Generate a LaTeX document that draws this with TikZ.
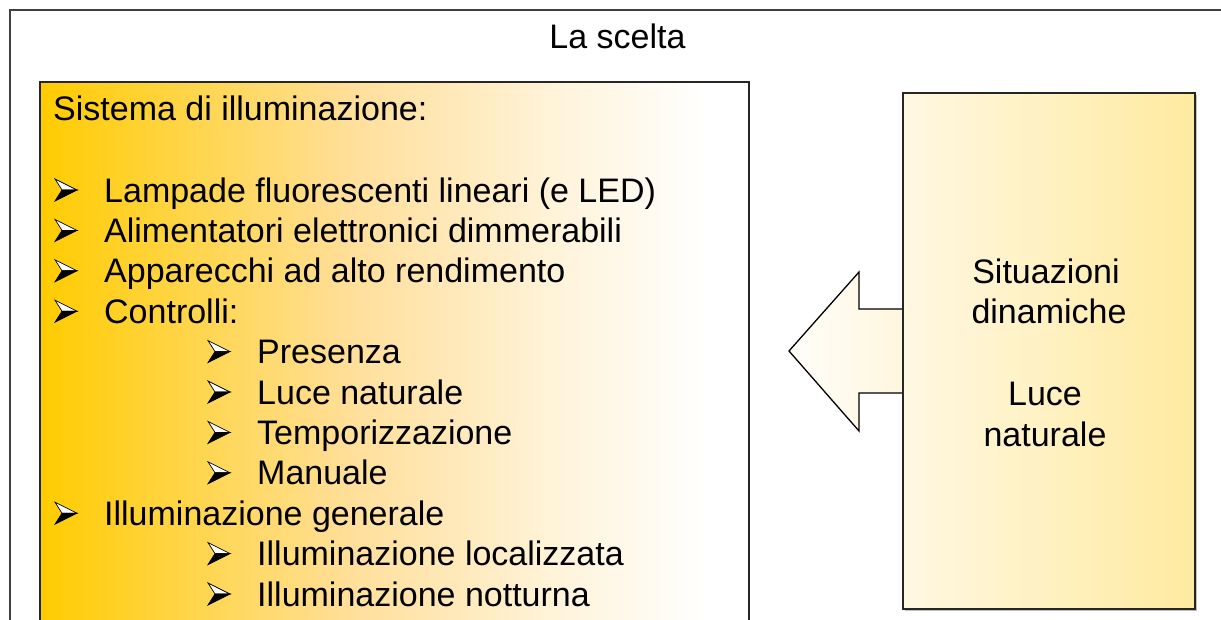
\documentclass[tikz,border=0pt]{standalone}
\usepackage{fontspec}
\setmainfont{Liberation Sans}
\definecolor{gold}{HTML}{FFCC00}
\definecolor{peach}{HTML}{FFDF9A}
\definecolor{cream}{HTML}{FFF4DC}
\definecolor{rbl}{HTML}{FFF8E2}
\definecolor{rbr}{HTML}{FFEAA0}
\definecolor{arl}{HTML}{FFFEFA}
\definecolor{arr}{HTML}{FFF6DE}
\definecolor{frame}{HTML}{404040}
\pgfdeclarehorizontalshading{leftgrad}{100bp}{color(0bp)=(gold); color(25bp)=(gold); color(47bp)=(peach); color(62bp)=(cream); color(72bp)=(white); color(100bp)=(white)}
\tikzset{
  txt/.style={inner sep=0pt, anchor=base west, font=\fontsize{34}{40}\selectfont},
  ctxt/.style={inner sep=0pt, anchor=base, font=\fontsize{34}{40}\selectfont},
  bul/.pic={
    \filldraw[fill=white,draw=black,line width=0.7pt,line join=miter] (-11,-11)--(11,0)--(-4,0)--cycle;
    \filldraw[fill=black,draw=black,line width=0.7pt,line join=miter] (-4,0)--(11,0)--(-11,11)--cycle;
  },
  boxline/.style={draw=black!85, line width=1.6pt}
}
\begin{document}
\begin{tikzpicture}[x=1pt,y=-1pt]
\useasboundingbox (0,0) rectangle (1221,619);
\fill[white] (0,0) rectangle (1221,619);
% outer frame
\draw[frame, line width=2pt] (9.5,640) -- (9.5,9.5) -- (1240,9.5);
\node[ctxt] (title) at (617.5,48) {La scelta};
% left box
\path[shading=leftgrad] (40,82) rectangle (749,640);
\draw[boxline] (40,640) -- (40,82) -- (749,82) -- (749,640);
\node[txt] (hd) at (53,120) {Sistema di illuminazione:};
\foreach \y/\t/\n in {202/{Lampade fluorescenti lineari (e LED)}/a,
  242.4/{Alimentatori elettronici dimmerabili}/b,
  282.8/{Apparecchi ad alto rendimento}/c,
  323.2/{Controlli:}/d,
  525.2/{Illuminazione generale}/e}{
  \pic at (66,\y-12) {bul};
  \node[txt] (m\n) at (104,\y) {\t};
}
\foreach \y/\t/\n in {363.6/{Presenza}/a,
  404/{Luce naturale}/b,
  444.4/{Temporizzazione}/c,
  484.8/{Manuale}/d,
  565.6/{Illuminazione localizzata}/e,
  606/{Illuminazione notturna}/f}{
  \pic at (219,\y-12) {bul};
  \node[txt] (s\n) at (257,\y) {\t};
}
% arrow
\path[left color=arl, right color=arr] (903,309) -- (859,309) -- (859,272) -- (789,351) -- (859,431) -- (859,393) -- (903,393) -- cycle;
\draw[black, line width=1.3pt, line join=miter] (903,309) -- (859,309) -- (859,272) -- (789,351) -- (859,431) -- (859,393) -- (903,393);
% right box
\fill[black!25] (905,95) rectangle (1197,611);
\path[left color=rbl, right color=rbr] (903,93) rectangle (1195,609);
\draw[boxline] (903,93) rectangle (1195,609);
\node[ctxt] (r1) at (1046,283) {Situazioni};
\node[ctxt] (r2) at (1049,323) {dinamiche};
\node[ctxt] (r3) at (1045,405) {Luce};
\node[ctxt] (r4) at (1045,446) {naturale};
\end{tikzpicture}
\end{document}
